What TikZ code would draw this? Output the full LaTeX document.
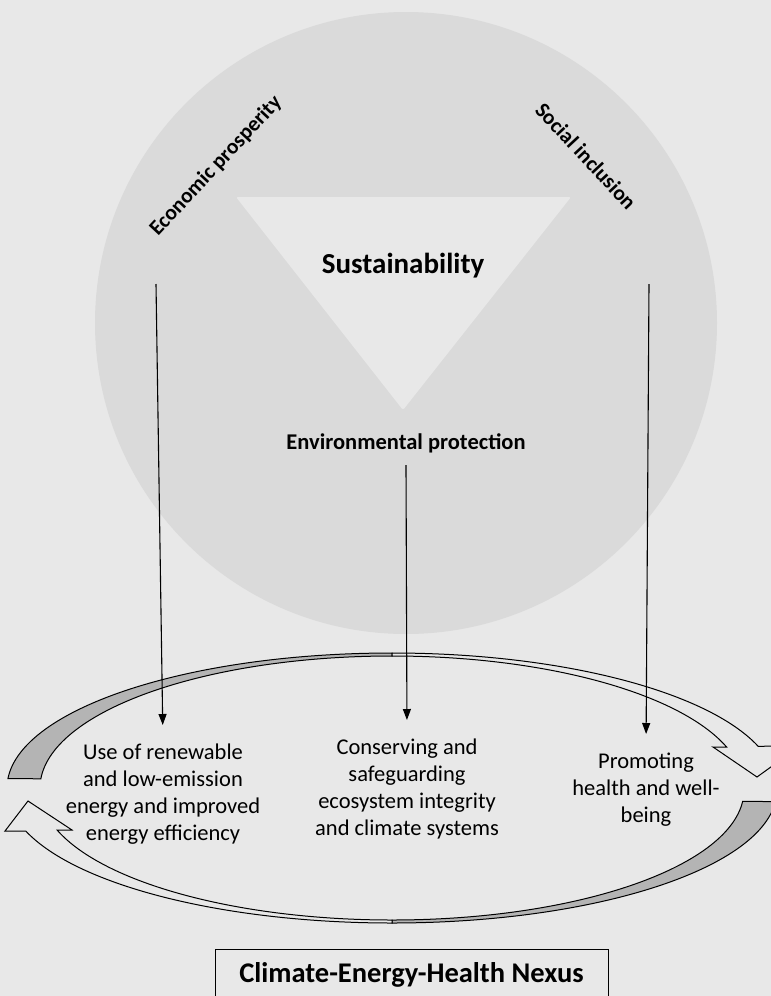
\documentclass[tikz,border=0pt]{standalone}
\usepackage{fontspec}
\setmainfont{Carlito}
\usetikzlibrary{arrows.meta}

\definecolor{backgr}{HTML}{E8E8E8}
\definecolor{disc}{HTML}{DADADA}
\definecolor{twist}{HTML}{B4B4B4}

\begin{document}
\begin{tikzpicture}[x=1pt,y=-1pt,>={Triangle[length=11pt,width=8pt]},shorten >=18pt,
                    line width=1.1pt]
\tikzstyle{every node}=[inner sep=0pt,text=black]
\tikzstyle{band}=[draw=black,line width=1pt,shorten >=0pt]
\tikzstyle{goal}=[align=center,anchor=north]
\tikzstyle{pillar}=[font=\bfseries\fontsize{21.5}{25}\selectfont]
\tikzset{font=\fontsize{22.5}{27}\selectfont}

  \fill[backgr] (0,0) rectangle (771,996);
  \useasboundingbox (0,0) rectangle (771,996);
  \clip (0,0) rectangle (771,996);

  % disc and triangle
  \fill[disc] (406,323) circle (311);
  \fill[backgr,rounded corners=2pt] (236,197) -- (571,197) -- (403,410) -- cycle;

  \node[font=\bfseries\fontsize{29}{33}\selectfont,anchor=base] (sust) at (403,273) {Sustainability};
  \node[pillar,rotate=47]   (econ)   at (216,166) {Economic prosperity};
  \node[pillar,rotate=-47]  (social) at (586,156) {Social inclusion};
  \node[pillar,font=\bfseries\fontsize{22.5}{26}\selectfont,anchor=base] (env) at (406,449) {Environmental protection};

  % cycle arrows
  \coordinate (hub)  at (392,788);
  \coordinate (hub2) at (392,790);

  \filldraw[band,fill=twist] ([shift={(184:385 and 135)}]hub)
      arc[start angle=184,end angle=270,x radius=385,y radius=135]
      -- ([shift={(270:352 and 132)}]hub)
      arc[start angle=270,end angle=184,x radius=352,y radius=132] -- cycle;
  \filldraw[band,fill=backgr] ([shift={(270:385 and 135)}]hub)
      arc[start angle=270,end angle=342,x radius=385,y radius=135]
      -- (800,746) -- (757,777) -- (713,747)
      -- ([shift={(342:352 and 132)}]hub)
      arc[start angle=342,end angle=270,x radius=352,y radius=132] -- cycle;

  \filldraw[band,fill=twist] ([shift={(5:385 and 133)}]hub2)
      arc[start angle=5,end angle=90,x radius=385,y radius=133]
      -- ([shift={(90:352 and 130)}]hub2)
      arc[start angle=90,end angle=5,x radius=352,y radius=130] -- cycle;
  \filldraw[band,fill=backgr] ([shift={(90:385 and 133)}]hub2)
      arc[start angle=90,end angle=162,x radius=385,y radius=133]
      -- (5,831) -- (28,801) -- (72,830)
      -- ([shift={(162:352 and 130)}]hub2)
      arc[start angle=162,end angle=90,x radius=352,y radius=130] -- cycle;

  % goals
  \node[goal] (renew)    at (163,743) {Use of renewable\\and low-emission\\energy and improved\\energy efficiency};
  \node[goal] (conserve) at (407,738) {Conserving and\\safeguarding\\ecosystem integrity\\and climate systems};
  \node[goal] (health)   at (646,752) {Promoting\\health and well-\\being};

  \coordinate (e0) at (156,284);
  \coordinate (m0) at (406,465);
  \coordinate (s0) at (649,284);

  \draw[->] (e0) -- (renew.north);
  \draw[->] (m0) -- (conserve.north);
  \draw[->] (s0) -- (health.north);

  \node[draw,line width=0.9pt,minimum width=393pt,minimum height=52pt,
        font=\bfseries\fontsize{28.5}{33}\selectfont] (nexus) at (411.5,975) {Climate-Energy-Health Nexus};

\end{tikzpicture}
\end{document}
